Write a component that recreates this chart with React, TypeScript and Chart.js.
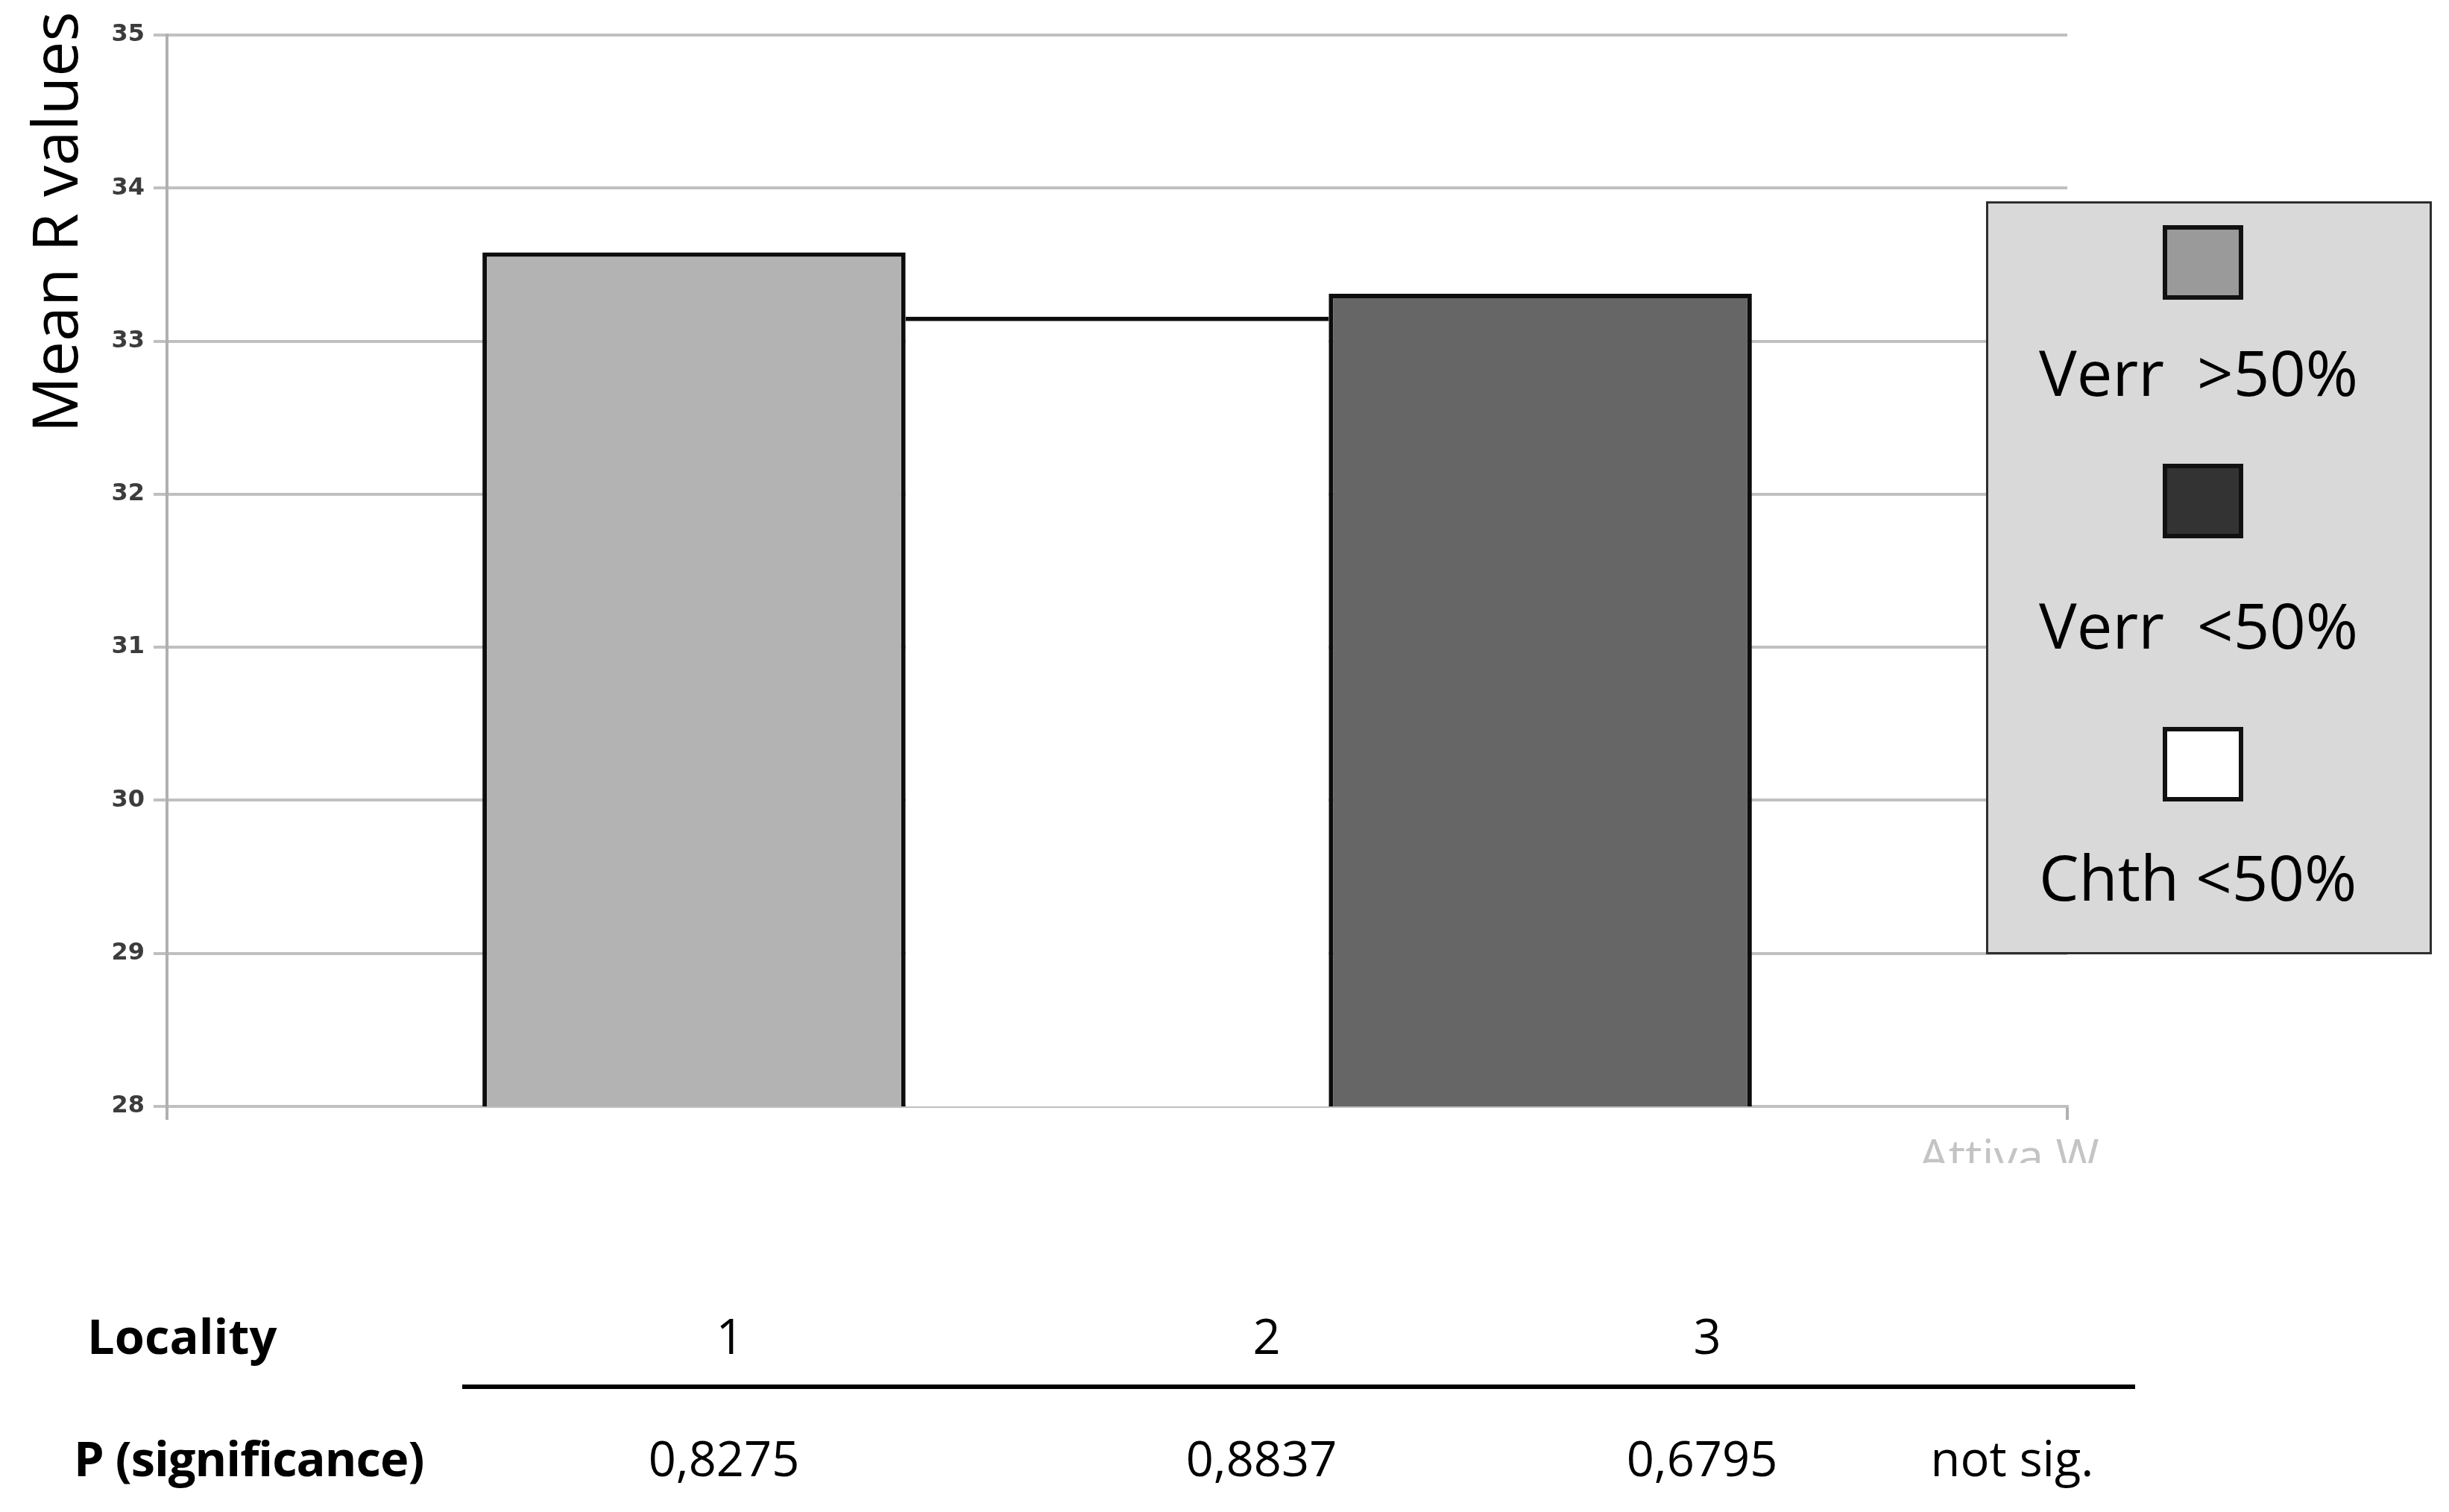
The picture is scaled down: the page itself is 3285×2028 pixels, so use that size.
import React, { useEffect, useRef } from 'react';
import { Chart, registerables } from 'chart.js';

Chart.register(...registerables);

// ---- data ----
const categories = ['Mean R'];
const seriesNames = ['Verr  >50%', 'Chth <50%', 'Verr  <50%'];
const seriesValues = [33.58, 33.16, 33.31];
const seriesColors = ['#b3b3b3', '#ffffff', '#666666'];
const yTicks = [28, 29, 30, 31, 32, 33, 34, 35];

const legendLabels = ['Verr  >50%', 'Verr  <50%', 'Chth <50%'];
const legendColors = ['#9a9a9a', '#333333', '#ffffff'];

const rowTitles = ['Locality', 'P (significance)'];
const localities = ['1', '2', '3'];
const pValues = ['0,8275', '0,8837', '0,6795', 'not sig.'];

// ---- layout ----
const W = 3285;
const H = 2028;
const CANVAS_H = 1600;
const AREA = { left: 224, right: 2773, top: 47, bottom: 1484 };
const X_TICK = 18;
const localityX = [979, 1699, 2290];
const pX = [971, 1692, 2283, 2699];
const legendSwatchTop = [302, 622, 975];
const legendBaseline = [531, 870, 1208];

const TEXT_FONT = '"Open Sans", "Noto Sans", sans-serif';

export default function App() {
  const canvasRef = useRef<HTMLCanvasElement | null>(null);

  useEffect(() => {
    const canvas = canvasRef.current;
    if (!canvas) return;
    const chart = new Chart(canvas, {
      type: 'bar',
      data: {
        labels: categories,
        datasets: seriesNames.map((name, i) => ({
          label: name,
          data: [seriesValues[i]],
          backgroundColor: seriesColors[i],
          borderColor: '#0d0d0d',
          borderWidth: seriesColors[i] === '#ffffff' ? { top: 6, bottom: 6, left: 0, right: 0 } : 6,
          borderSkipped: false,
          barPercentage: 1,
          categoryPercentage: 0.668,
        })),
      },
      options: {
        responsive: false,
        animation: false,
        devicePixelRatio: 1,
        layout: {
          padding: {
            left: 0,
            top: AREA.top,
            right: W - AREA.right,
            bottom: CANVAS_H - AREA.bottom - X_TICK,
          },
        },
        plugins: {
          legend: { display: false },
          tooltip: { enabled: false },
          title: { display: false },
        },
        scales: {
          x: {
            type: 'category',
            offset: true,
            ticks: { display: false },
            grid: {
              display: true,
              offset: true,
              drawOnChartArea: false,
              drawTicks: true,
              tickLength: X_TICK,
              color: '#b0b0b0',
              lineWidth: 4,
            },
            border: { display: true, color: '#c0c0c0', width: 4 },
            afterFit: (scale: any) => {
              scale.height = X_TICK;
            },
          },
          y: {
            min: yTicks[0],
            max: yTicks[yTicks.length - 1],
            ticks: {
              stepSize: 1,
              padding: 12,
              color: '#3c3c3c',
              font: { family: '"DejaVu Sans", Verdana, sans-serif', size: 32, weight: 'bold' },
            },
            grid: {
              color: '#c0c0c0',
              lineWidth: 4,
              drawTicks: true,
              tickLength: 18,
            },
            border: { display: true, color: '#b0b0b0', width: 4 },
            afterFit: (scale: any) => {
              scale.width = AREA.left;
            },
          },
        },
      },
    });
    return () => chart.destroy();
  }, []);

  const textBase: React.CSSProperties = {
    position: 'absolute',
    fontFamily: TEXT_FONT,
    color: '#000',
    whiteSpace: 'pre',
  };

  const tableSize = 65;
  const tableTop1 = 1817 - 0.888 * tableSize;
  const tableTop2 = 1981 - 0.888 * tableSize;
  const legendSize = 85;

  return (
    <div
      style={{
        position: 'absolute',
        left: 0,
        top: 0,
        width: W,
        height: H,
        background: '#ffffff',
        overflow: 'hidden',
      }}
    >
      <canvas
        ref={canvasRef}
        width={W}
        height={CANVAS_H}
        style={{ position: 'absolute', left: 0, top: 0, width: W, height: CANVAS_H }}
      />

      {/* y-axis title */}
      <div
        style={{
          ...textBase,
          left: 72 - 300,
          top: 298 - 42,
          width: 600,
          height: 84,
          lineHeight: '84px',
          fontSize: 84,
          textAlign: 'center',
          transform: 'rotate(-90deg)',
          transformOrigin: 'center center',
        }}
      >
        Mean R values
      </div>

      {/* watermark (clipped) */}
      <div
        style={{
          position: 'absolute',
          left: 2574,
          top: 1518,
          width: 260,
          height: 42,
          overflow: 'hidden',
        }}
      >
        <div
          style={{
            ...textBase,
            left: 0,
            top: 0,
            fontSize: 63,
            lineHeight: '62px',
            color: '#c4c4c4',
          }}
        >
          Attiva W
        </div>
      </div>

      {/* legend */}
      <div
        style={{
          position: 'absolute',
          left: 2664,
          top: 270,
          width: 3262 - 2664,
          height: 1280 - 270,
          boxSizing: 'border-box',
          background: '#d9d9d9',
          border: '3px solid #2e2e2e',
        }}
      />
      {legendLabels.map((lab, i) => (
        <React.Fragment key={lab}>
          <div
            style={{
              position: 'absolute',
              left: 2901,
              top: legendSwatchTop[i],
              width: 108,
              height: 100,
              boxSizing: 'border-box',
              background: legendColors[i],
              border: '6px solid #111111',
            }}
          />
          <div
            style={{
              ...textBase,
              left: 2735,
              top: legendBaseline[i] - 0.888 * legendSize,
              fontSize: legendSize,
              lineHeight: `${legendSize}px`,
            }}
          >
            {lab}
          </div>
        </React.Fragment>
      ))}

      {/* table below chart */}
      <div
        style={{
          ...textBase,
          left: 117,
          top: tableTop1,
          fontSize: tableSize,
          lineHeight: `${tableSize}px`,
          fontWeight: 'bold',
        }}
      >
        {rowTitles[0]}
      </div>
      <div
        style={{
          ...textBase,
          left: 99,
          top: tableTop2,
          fontSize: tableSize,
          lineHeight: `${tableSize}px`,
          fontWeight: 'bold',
          letterSpacing: -1,
        }}
      >
        {rowTitles[1]}
      </div>
      {localities.map((l, i) => (
        <div
          key={'loc' + i}
          style={{
            ...textBase,
            left: localityX[i] - 200,
            width: 400,
            textAlign: 'center',
            top: tableTop1,
            fontSize: tableSize,
            lineHeight: `${tableSize}px`,
          }}
        >
          {l}
        </div>
      ))}
      {pValues.map((p, i) => (
        <div
          key={'p' + i}
          style={{
            ...textBase,
            left: pX[i] - 200,
            width: 400,
            textAlign: 'center',
            top: tableTop2,
            fontSize: tableSize,
            lineHeight: `${tableSize}px`,
          }}
        >
          {p}
        </div>
      ))}
      <div
        style={{
          position: 'absolute',
          left: 620,
          top: 1857,
          width: 2864 - 620,
          height: 6,
          background: '#000000',
        }}
      />
    </div>
  );
}
